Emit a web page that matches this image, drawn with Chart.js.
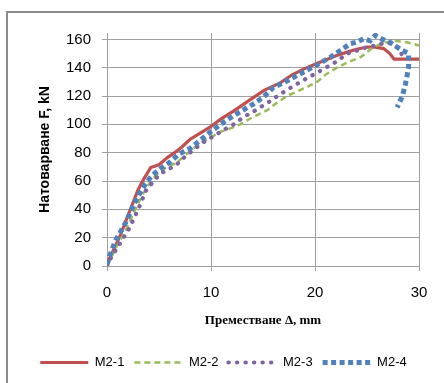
<!DOCTYPE html>
<html lang="bg">
<head>
  <meta charset="UTF-8">
  <title>Натоварване - преместване</title>
  <style>
    html, body { margin: 0; padding: 0; background: #fff; }
    #wrap { position: relative; width: 444px; height: 383px; overflow: hidden; }
    #chart { position: absolute; left: 0; top: 0; }
    #frame { position: absolute; left: 6px; top: 11px; width: 460px; height: 400px;
             border-left: 2px solid #8a8a8a; border-top: 2px solid #8a8a8a; pointer-events: none; }
  </style>
</head>
<body>
  <div id="wrap">
    <canvas id="chart" width="444" height="383"></canvas>
    <div id="frame"></div>
  </div>

  <script src="https://cdn.jsdelivr.net/npm/chart.js"></script>
  <script>
    // Данни, отчетени от графиката (преместване в mm, натоварване в kN)
    const seriesNames = ['M2-1', 'M2-2', 'M2-3', 'M2-4'];

    const m21x = [0, 0.3, 1.3, 2.2, 3.0, 3.5, 4.2, 5.0, 5.8, 6.5, 7.2, 8.0, 9.0, 9.9, 11.0, 12.2, 13.5, 15.1, 16.7, 17.8, 18.9, 20.0, 21.2, 22.2, 23.1, 24.0, 25.0, 25.8, 26.6, 27.2, 27.6, 28.0, 30.0];
    const m21y = [3, 6, 22, 39, 54, 61, 69.5, 71.5, 76.5, 80, 84, 89.5, 94, 98, 104, 109.5, 116, 124, 129.5, 135, 139, 142.5, 146, 149, 151, 153, 154.6, 154.5, 153.5, 150, 146, 146, 146];

    const m22x = [0, 0.8, 1.8, 2.6, 3.4, 4.2, 5.0, 5.8, 6.7, 7.5, 8.3, 9.0, 10.0, 11.0, 12.0, 12.8, 14.0, 15.4, 16.3, 17.3, 18.5, 19.4, 20.2, 21.0, 22.1, 23.2, 24.4, 25.0, 25.6, 26.6, 27.6, 28.8, 30.0];
    const m22y = [0, 12, 25, 38, 50, 60, 66, 70, 73, 78, 83, 87, 91, 95, 97.5, 100, 105, 110, 115, 120, 124, 127, 130, 135, 140, 144, 147.5, 151, 154.5, 157.5, 159, 158, 155.7];

    const m23x = [0, 0.4, 1.0, 2.1, 3.0, 3.8, 4.5, 5.1, 5.8, 6.6, 7.4, 8.3, 9.2, 10.2, 11.2, 12.2, 13.1, 14.3, 15.6, 16.8, 17.7, 18.6, 19.7, 20.8, 22.0, 23.1, 24.0, 25.0, 26.0, 26.9, 27.7, 28.2, 28.5];
    const m23y = [0, 6, 13, 26, 40, 54, 60, 65, 68, 71, 76.5, 82, 87, 91.5, 96, 100, 105, 110, 116, 122, 126, 130, 134.5, 139, 144, 150, 152, 154.5, 156, 158, 156, 152, 146];

    const m24x = [0, 0.3, 0.8, 1.8, 2.6, 3.2, 3.7, 4.3, 5.1, 6.0, 6.9, 8.0, 9.0, 10.0, 11.2, 12.6, 14.1, 15.0, 16.0, 17.4, 18.9, 20.2, 21.5, 22.4, 23.4, 24.0, 24.7, 25.3, 25.8, 26.5, 27.2, 28.2, 29.0, 29.0, 28.7, 28.4, 27.9];
    const m24y = [1, 8, 17.7, 30.7, 43.7, 52, 58, 63.7, 68.5, 73, 79, 83, 89, 95, 101.5, 108, 114.5, 119, 126, 131, 137, 142, 147.5, 152, 157, 158, 160.5, 159, 162.8, 160, 158, 153, 150, 140, 128.6, 120, 112];

    const xTicks = [0, 10, 20, 30];
    const yTicks = [0, 20, 40, 60, 80, 100, 120, 140, 160];

    const toPoints = (xs, ys) => xs.map((x, i) => ({ x: x, y: ys[i] }));

    // легендата да рисува линиите с пунктира на серията, а не със стила на точките
    const legendLabels = chart => {
      const items = Chart.defaults.plugins.legend.labels.generateLabels(chart);
      return items.map(it => {
        const ds = chart.data.datasets[it.datasetIndex];
        return Object.assign(it, {
          lineDash: ds.borderDash || [],
          lineCap: ds.borderCapStyle || 'butt',
          lineWidth: ds.borderWidth,
          strokeStyle: ds.borderColor,
          fillStyle: ds.borderColor
        });
      });
    };

    const ctx = document.getElementById('chart').getContext('2d');
    new Chart(ctx, {
      type: 'scatter',
      data: {
        datasets: [
          { label: seriesNames[0], data: toPoints(m21x, m21y), borderColor: '#c0504d',
            borderWidth: 3.2, order: 4 },
          { label: seriesNames[1], data: toPoints(m22x, m22y), borderColor: '#9bbb59',
            borderWidth: 2.5, borderDash: [6, 4], order: 3 },
          { label: seriesNames[2], data: toPoints(m23x, m23y), borderColor: '#8064a2',
            borderWidth: 4.2, borderDash: [0.3, 8.2], borderCapStyle: 'round', order: 2 },
          { label: seriesNames[3], data: toPoints(m24x, m24y), borderColor: '#4f81bd',
            borderWidth: 5, borderDash: [5, 3.5], order: 1 }
        ].map(d => Object.assign({ showLine: true, pointRadius: 0, fill: false, tension: 0,
                                    backgroundColor: d.borderColor }, d))
      },
      options: {
        responsive: false,
        animation: false,
        layout: { padding: { top: 33, right: 25, left: 28, bottom: 4 } },
        plugins: {
          tooltip: { enabled: false },
          legend: {
            position: 'bottom',
            labels: {
              usePointStyle: true,
              pointStyle: 'line',
              pointStyleWidth: 48,
              color: '#000',
              font: { family: 'Liberation Sans', size: 13 },
              padding: 10,
              generateLabels: legendLabels,
              sort: (a, b) => a.datasetIndex - b.datasetIndex
            }
          }
        },
        scales: {
          x: {
            type: 'linear',
            min: 0, max: 30,
            afterFit: axis => { axis.height = 80; },
            afterBuildTicks: axis => { axis.ticks = xTicks.map(v => ({ value: v })); },
            ticks: { color: '#000', padding: 13, font: { family: 'Liberation Sans', size: 15 } },
            grid: { color: '#a0a0a0', tickLength: 5 },
            border: { color: '#a0a0a0' },
            title: { display: true, text: 'Преместване Δ, mm', color: '#000',
                     font: { family: 'Liberation Serif', size: 13, weight: 'bold' },
                     padding: { top: 2, bottom: 18 } }
          },
          y: {
            min: 0, max: 164.5,
            afterFit: axis => { axis.width = 79; },
            afterBuildTicks: axis => { axis.ticks = yTicks.map(v => ({ value: v })); },
            ticks: { color: '#000', padding: 11, font: { family: 'Liberation Sans', size: 15 } },
            grid: { color: '#a0a0a0', tickLength: 5 },
            border: { color: '#a0a0a0' },
            title: { display: true, text: 'Натоварване F, kN', color: '#000',
                     font: { family: 'Liberation Sans', size: 14, weight: 'bold' },
                     padding: { top: 9, bottom: 0 } }
          }
        }
      }
    });
  </script>
</body>
</html>
